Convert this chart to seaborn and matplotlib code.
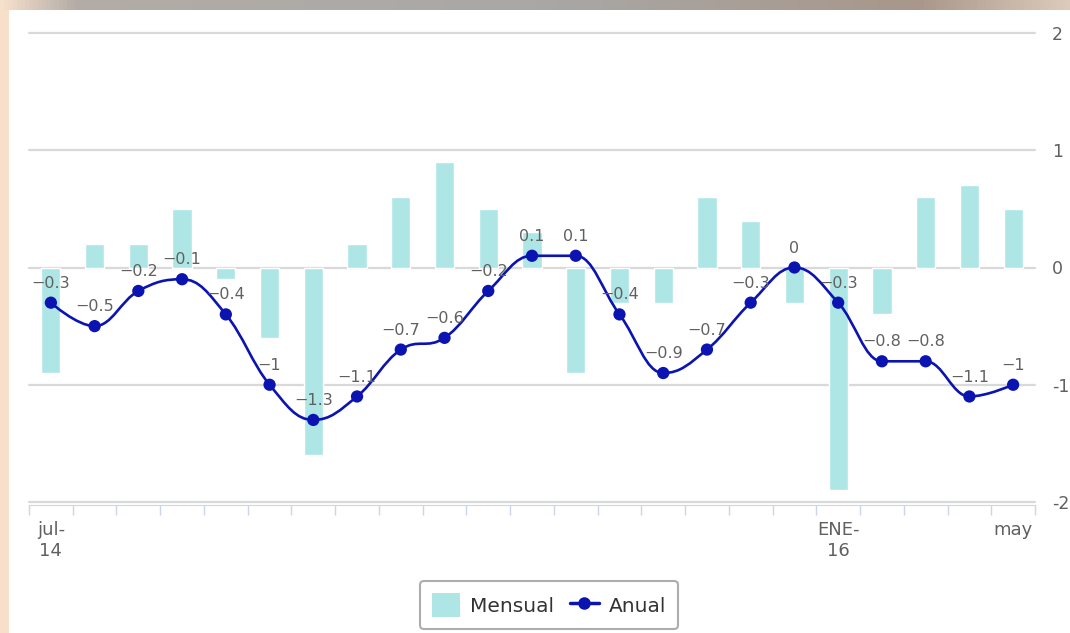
import numpy as np
import pandas as pd
import seaborn as sns
import matplotlib.pyplot as plt
from matplotlib.path import Path
from matplotlib.patches import PathPatch, Patch, Rectangle
from matplotlib.lines import Line2D
from matplotlib.colors import LinearSegmentedColormap

# datos: variacion mensual y anual, jul-14 a may-16
meses = ['jul-14', 'ago-14', 'sep-14', 'oct-14', 'nov-14', 'dic-14',
         'ene-15', 'feb-15', 'mar-15', 'abr-15', 'may-15', 'jun-15',
         'jul-15', 'ago-15', 'sep-15', 'oct-15', 'nov-15', 'dic-15',
         'ene-16', 'feb-16', 'mar-16', 'abr-16', 'may-16']
mensual = [-0.9, 0.2, 0.2, 0.5, -0.1, -0.6, -1.6, 0.2, 0.6, 0.9, 0.5, 0.3,
           -0.9, -0.3, -0.3, 0.6, 0.4, -0.3, -1.9, -0.4, 0.6, 0.7, 0.5]
anual = [-0.3, -0.5, -0.2, -0.1, -0.4, -1, -1.3, -1.1, -0.7, -0.6, -0.2, 0.1,
         0.1, -0.4, -0.9, -0.7, -0.3, 0, -0.3, -0.8, -0.8, -1.1, -1]
xtick_pos = [0, 18, 22]
xtick_labels = ['jul-\n14', 'ENE-\n16', 'may']
ytick_vals = [-2, -1, 0, 1, 2]

BAR = '#aee6e5'
LINE = '#0b14b0'
GRID = '#d9d9d9'
TXT = '#606060'

df = pd.DataFrame({'pos': np.arange(len(meses)), 'mes': meses,
                   'mensual': mensual, 'anual': anual})


def spline_path(xs, ys, smoothing=1.5):
    # curva tipo "spline" de Highcharts (bezier cubica)
    n = len(xs)
    den = smoothing + 1
    left = [None] * n
    right = [None] * n
    for i in range(1, n - 1):
        x, y = xs[i], ys[i]
        lx, ly = xs[i - 1], ys[i - 1]
        nx, ny = xs[i + 1], ys[i + 1]
        lcx = (smoothing * x + lx) / den
        lcy = (smoothing * y + ly) / den
        rcx = (smoothing * x + nx) / den
        rcy = (smoothing * y + ny) / den
        if rcx != lcx:
            corr = ((rcy - lcy) * (rcx - x)) / (rcx - lcx) + y - rcy
            lcy += corr
            rcy += corr
        if lcy > ly and lcy > y:
            lcy = max(ly, y)
            rcy = 2 * y - lcy
        elif lcy < ly and lcy < y:
            lcy = min(ly, y)
            rcy = 2 * y - lcy
        if rcy > ny and rcy > y:
            rcy = max(ny, y)
            lcy = 2 * y - rcy
        elif rcy < ny and rcy < y:
            rcy = min(ny, y)
            lcy = 2 * y - rcy
        left[i] = (lcx, lcy)
        right[i] = (rcx, rcy)
    verts = [(xs[0], ys[0])]
    codes = [Path.MOVETO]
    for i in range(1, n):
        c1 = right[i - 1] or (xs[i - 1], ys[i - 1])
        c2 = left[i] or (xs[i], ys[i])
        verts += [c1, c2, (xs[i], ys[i])]
        codes += [Path.CURVE4] * 3
    return Path(verts, codes)


sns.set_style('white')
plt.rcParams['font.family'] = ['DejaVu Sans']

W, H = 1070, 633
fig = plt.figure(figsize=(W / 100, H / 100), dpi=100, facecolor='white')

# marco de fondo (franja superior y lateral)
cmap = LinearSegmentedColormap.from_list('top', [
    (0.0, '#f6e0cc'), (0.07, '#b3aca6'), (0.5, '#a9a8a7'),
    (0.86, '#a8978a'), (1.0, '#dccbba')])
top = fig.add_axes([0, 1 - 10 / H, 1, 10 / H])
top.imshow(np.linspace(0, 1, 256)[None, :], aspect='auto', cmap=cmap)
top.axis('off')
fig.patches.append(Rectangle((0, 0), 9 / W, 1 - 10 / H, transform=fig.transFigure,
                             facecolor='#f7dfca', edgecolor='none', zorder=-1))

ax = fig.add_axes([29 / W, 1 - 502 / H, (1035 - 29) / W, (502 - 33) / H])

sns.barplot(data=df, x='pos', y='mensual', color=BAR, saturation=1,
            width=0.44, ax=ax, zorder=2)

path = spline_path(df['pos'].tolist(), df['anual'].tolist())
ax.add_patch(PathPatch(path, facecolor='none', edgecolor=LINE, lw=1.9, zorder=3))
sns.scatterplot(data=df, x='pos', y='anual', color=LINE, s=78,
                edgecolor='none', ax=ax, zorder=4)

for i, v in enumerate(anual):
    ax.annotate(f'{v:g}'.replace('-', '\u2212'), (i, v), xytext=(0, 14),
                textcoords='offset points', ha='center', va='center',
                fontsize=11.5, color=TXT, zorder=5)

ax.set_xlim(-0.5, len(meses) - 0.5)
ax.set_ylim(-2, 2)
ax.set_axisbelow(True)
ax.yaxis.grid(True, color=GRID, lw=1.6)
ax.xaxis.grid(False)

for s in ['top', 'left', 'right']:
    ax.spines[s].set_visible(False)
ax.spines['bottom'].set_color('#ccd6eb')
ax.spines['bottom'].set_position(('outward', 2))

ax.set_xticks(xtick_pos)
ax.set_xticklabels(xtick_labels, fontsize=13, color=TXT)
ax.set_xticks(np.arange(-0.5, len(meses)), minor=True)
ax.tick_params(axis='x', which='major', bottom=True, length=0, pad=12)
ax.tick_params(axis='x', which='minor', bottom=True, length=7,
               color='#ccd6eb', width=1)

ax.yaxis.tick_right()
ax.set_yticks(ytick_vals)
ax.set_yticklabels([str(v) for v in ytick_vals], fontsize=12.5, color=TXT)
ax.tick_params(axis='y', length=0, pad=12)
ax.set_xlabel('')
ax.set_ylabel('')

for gl in ax.get_ygridlines():
    gl.set_clip_on(False)

handles = [Patch(facecolor=BAR, edgecolor='none'),
           Line2D([0], [0], color=LINE, lw=2.5, marker='o', markersize=8)]
leg = fig.legend(handles, ['Mensual', 'Anual'], loc='center',
                 bbox_to_anchor=(549 / W, 1 - 605 / H), ncol=2, fontsize=14.5,
                 frameon=True, fancybox=True, edgecolor='#999999',
                 handlelength=1.4, handleheight=1.4, handletextpad=0.5,
                 columnspacing=0.8, borderpad=0.6, labelcolor='#333333')
leg.get_frame().set_linewidth(1.5)

fig.savefig('out.png', dpi=100)
